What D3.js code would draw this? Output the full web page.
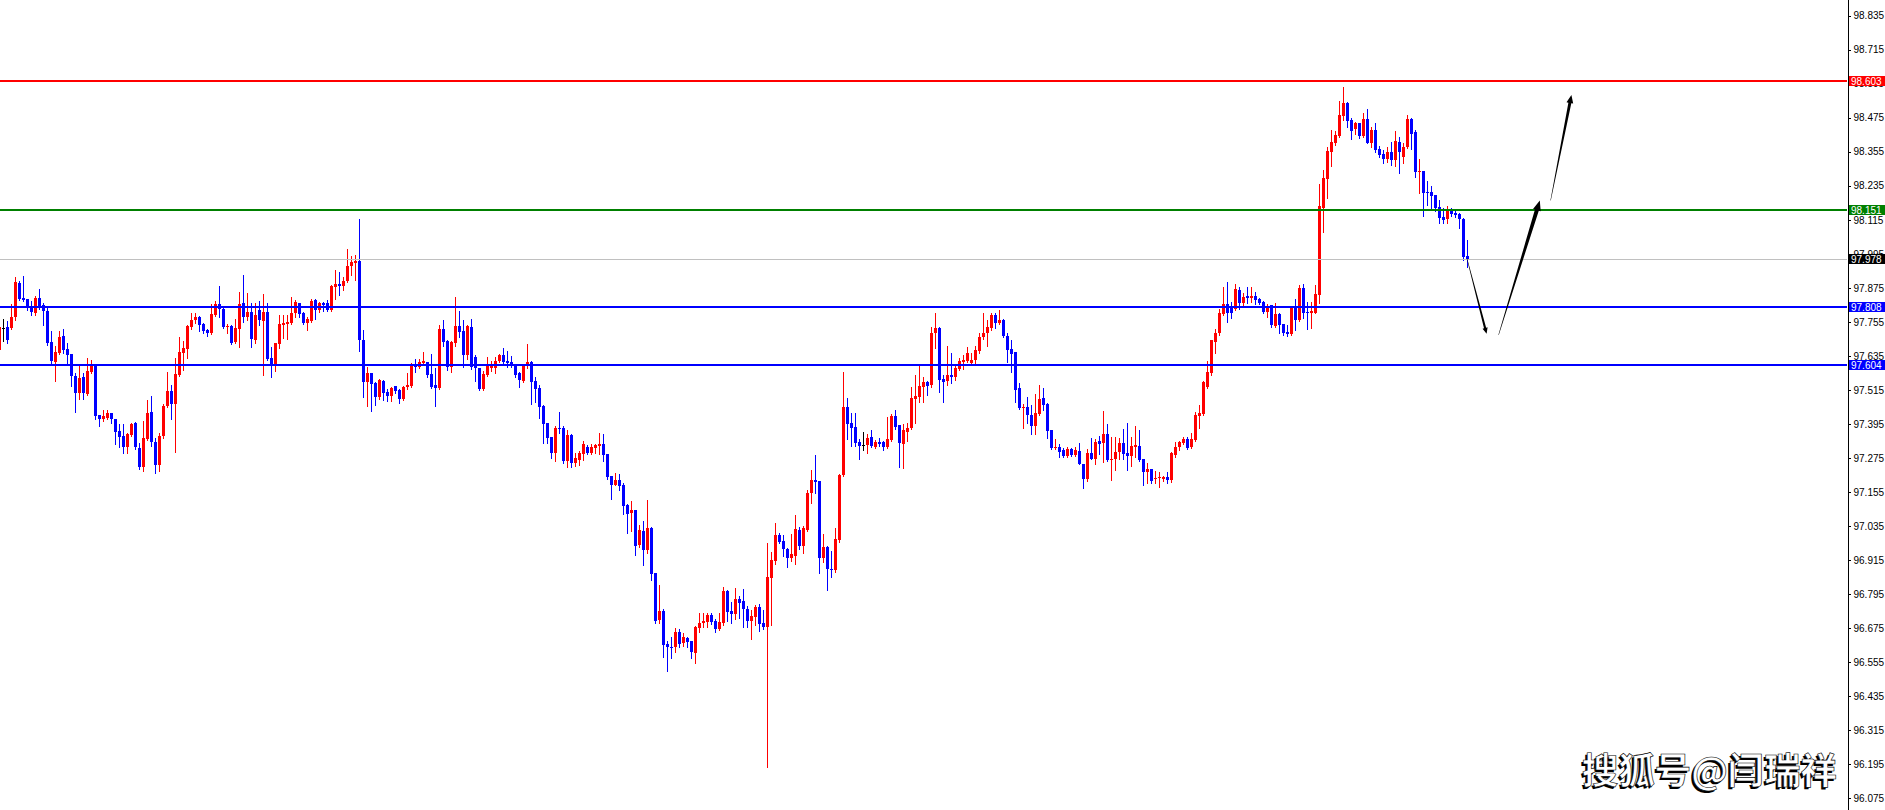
<!DOCTYPE html>
<html><head><meta charset="utf-8">
<script src="https://cdn.jsdelivr.net/npm/d3@7"></script>
<style>html,body{margin:0;padding:0;background:#fff;overflow:hidden}</style>
</head><body>
<svg id="chart" width="1885" height="810"></svg>
<script>
const openP = [
97.655,97.733,97.736,97.733,97.772,97.891,97.839,97.835,97.811,97.786,
97.839,97.814,97.793,97.684,97.613,97.645,97.705,97.659,97.641,97.564,
97.504,97.560,97.500,97.578,97.603,97.426,97.412,97.416,97.433,97.412,
97.370,97.352,97.313,97.356,97.398,97.310,97.243,97.342,97.437,97.331,
97.250,97.352,97.458,97.511,97.465,97.567,97.645,97.659,97.736,97.761,
97.772,97.747,97.726,97.715,97.779,97.818,97.800,97.736,97.740,97.684,
97.729,97.821,97.772,97.790,97.691,97.797,97.758,97.790,97.627,97.599,
97.677,97.744,97.747,97.751,97.786,97.821,97.786,97.751,97.758,97.832,
97.797,97.821,97.821,97.797,97.878,97.888,97.881,97.899,97.952,97.963,
97.970,97.691,97.543,97.574,97.539,97.490,97.546,97.507,97.493,97.529,
97.514,97.483,97.525,97.529,97.603,97.596,97.610,97.613,97.571,97.532,
97.521,97.729,97.687,97.596,97.680,97.740,97.722,97.638,97.736,97.631,
97.592,97.518,97.567,97.592,97.592,97.617,97.638,97.617,97.613,97.603,
97.574,97.546,97.599,97.613,97.546,97.521,97.458,97.398,97.349,97.292,
97.380,97.380,97.264,97.356,97.257,97.267,97.289,97.313,97.292,97.310,
97.317,97.324,97.289,97.211,97.180,97.197,97.179,97.109,97.080,97.091,
96.968,97.017,96.950,97.028,96.869,96.703,96.735,96.619,96.608,96.608,
96.661,96.622,96.640,96.629,96.587,96.675,96.693,96.696,96.721,96.700,
96.672,96.693,96.806,96.735,96.724,96.777,96.770,96.742,96.700,96.714,
96.749,96.693,96.679,96.851,96.911,97.003,96.982,96.954,96.922,96.929,
97.021,96.964,97.021,97.151,97.197,97.194,96.922,96.961,96.883,96.879,
96.985,97.215,97.455,97.398,97.384,97.331,97.320,97.320,97.349,97.313,
97.331,97.331,97.313,97.338,97.423,97.391,97.324,97.366,97.380,97.483,
97.490,97.525,97.543,97.532,97.715,97.733,97.553,97.546,97.567,97.560,
97.589,97.613,97.617,97.610,97.620,97.652,97.701,97.715,97.733,97.779,
97.751,97.761,97.705,97.659,97.648,97.521,97.451,97.455,97.426,97.388,
97.430,97.486,97.465,97.373,97.310,97.313,97.303,97.282,97.306,97.285,
97.299,97.254,97.201,97.292,97.271,97.334,97.327,97.359,97.267,97.271,
97.296,97.327,97.292,97.282,97.313,97.317,97.271,97.225,97.236,97.201,
97.204,97.201,97.208,97.197,97.285,97.313,97.327,97.342,97.313,97.338,
97.423,97.430,97.525,97.574,97.684,97.715,97.783,97.818,97.811,97.800,
97.867,97.821,97.846,97.839,97.846,97.835,97.825,97.790,97.814,97.740,
97.783,97.747,97.719,97.712,97.807,97.761,97.874,97.790,97.786,97.786,
97.850,98.156,98.259,98.354,98.386,98.410,98.481,98.527,98.467,98.435,
98.456,98.410,98.470,98.386,98.431,98.365,98.347,98.329,98.354,98.326,
98.389,98.336,98.372,98.470,98.424,98.283,98.287,98.213,98.213,98.202,
98.160,98.125,98.118,98.146,98.139,98.135,98.118,97.987];

const highP = [
97.754,97.765,97.758,97.818,97.913,97.899,97.917,97.836,97.828,97.846,
97.871,97.821,97.807,97.722,97.669,97.722,97.729,97.680,97.643,97.574,
97.599,97.574,97.627,97.620,97.605,97.427,97.444,97.444,97.434,97.413,
97.395,97.395,97.363,97.398,97.402,97.327,97.405,97.479,97.493,97.345,
97.363,97.465,97.578,97.532,97.627,97.701,97.687,97.744,97.786,97.786,
97.776,97.751,97.729,97.818,97.828,97.881,97.804,97.747,97.744,97.765,
97.860,97.920,97.857,97.821,97.821,97.828,97.853,97.821,97.666,97.681,
97.779,97.779,97.779,97.843,97.832,97.823,97.790,97.772,97.835,97.836,
97.825,97.825,97.832,97.885,97.938,97.931,97.913,98.012,97.987,97.991,
98.118,97.726,97.596,97.576,97.543,97.553,97.550,97.518,97.525,97.530,
97.518,97.529,97.574,97.610,97.624,97.624,97.648,97.615,97.641,97.592,
97.744,97.761,97.691,97.687,97.843,97.793,97.761,97.744,97.765,97.638,
97.594,97.581,97.631,97.617,97.631,97.641,97.663,97.652,97.634,97.604,
97.578,97.606,97.677,97.617,97.560,97.532,97.460,97.400,97.350,97.388,
97.437,97.388,97.373,97.359,97.292,97.299,97.334,97.320,97.324,97.324,
97.363,97.359,97.290,97.212,97.222,97.218,97.187,97.112,97.123,97.093,
97.038,97.052,97.126,97.031,96.870,96.827,96.742,96.629,96.643,96.675,
96.672,96.657,96.643,96.630,96.682,96.728,96.728,96.728,96.728,96.707,
96.728,96.820,96.809,96.767,96.816,96.788,96.813,96.753,96.738,96.756,
96.760,96.738,96.975,96.943,97.045,97.010,97.003,96.957,97.007,97.073,
97.031,97.035,97.162,97.232,97.285,97.195,97.007,96.964,96.947,97.028,
97.218,97.578,97.486,97.433,97.433,97.342,97.366,97.359,97.373,97.338,
97.345,97.334,97.419,97.430,97.444,97.392,97.395,97.398,97.525,97.567,
97.599,97.560,97.546,97.736,97.786,97.736,97.567,97.669,97.645,97.606,
97.627,97.638,97.666,97.645,97.669,97.715,97.786,97.761,97.786,97.786,
97.797,97.765,97.715,97.691,97.650,97.539,97.465,97.490,97.462,97.500,
97.532,97.521,97.469,97.375,97.342,97.324,97.310,97.313,97.310,97.313,
97.327,97.255,97.306,97.345,97.342,97.352,97.440,97.395,97.349,97.349,
97.345,97.377,97.398,97.349,97.388,97.373,97.272,97.257,97.237,97.229,
97.225,97.211,97.225,97.296,97.331,97.334,97.349,97.349,97.363,97.437,
97.462,97.545,97.617,97.692,97.729,97.800,97.878,97.895,97.825,97.888,
97.878,97.857,97.878,97.878,97.860,97.839,97.828,97.818,97.816,97.821,
97.786,97.748,97.744,97.808,97.835,97.885,97.888,97.825,97.825,97.885,
98.241,98.290,98.372,98.431,98.428,98.534,98.583,98.530,98.474,98.460,
98.457,98.491,98.506,98.442,98.456,98.375,98.361,98.372,98.389,98.428,
98.407,98.386,98.484,98.474,98.431,98.329,98.288,98.252,98.234,98.203,
98.184,98.156,98.163,98.156,98.146,98.139,98.121,98.043];

const lowP = [
97.648,97.687,97.680,97.731,97.761,97.833,97.828,97.797,97.779,97.779,
97.800,97.744,97.673,97.606,97.546,97.643,97.645,97.610,97.529,97.437,
97.483,97.483,97.498,97.576,97.412,97.388,97.405,97.412,97.398,97.324,
97.313,97.292,97.292,97.352,97.306,97.236,97.229,97.340,97.317,97.222,
97.229,97.345,97.455,97.412,97.296,97.564,97.585,97.627,97.729,97.751,
97.722,97.715,97.705,97.712,97.776,97.772,97.734,97.715,97.677,97.680,
97.666,97.754,97.761,97.666,97.680,97.744,97.567,97.622,97.560,97.581,
97.663,97.698,97.694,97.749,97.772,97.772,97.749,97.726,97.756,97.765,
97.790,97.793,97.795,97.795,97.835,97.850,97.867,97.895,97.920,97.902,
97.652,97.490,97.458,97.441,97.462,97.483,97.479,97.476,97.476,97.504,
97.469,97.479,97.518,97.525,97.578,97.594,97.606,97.560,97.523,97.458,
97.519,97.669,97.585,97.578,97.669,97.701,97.596,97.624,97.589,97.546,
97.514,97.516,97.564,97.581,97.574,97.613,97.603,97.596,97.596,97.560,
97.525,97.544,97.592,97.465,97.472,97.416,97.327,97.327,97.275,97.264,
97.363,97.257,97.243,97.243,97.246,97.250,97.267,97.289,97.290,97.292,
97.289,97.264,97.201,97.130,97.178,97.162,97.077,97.010,97.017,96.932,
96.961,96.897,96.940,96.844,96.693,96.693,96.573,96.523,96.569,96.590,
96.608,96.612,96.608,96.569,96.551,96.661,96.679,96.679,96.689,96.661,
96.668,96.686,96.700,96.693,96.707,96.710,96.679,96.679,96.636,96.686,
96.665,96.672,96.185,96.686,96.901,96.976,96.929,96.890,96.911,96.901,
96.954,96.940,97.017,97.116,97.151,96.869,96.908,96.809,96.855,96.873,
96.978,97.213,97.342,97.317,97.317,97.271,97.303,97.292,97.315,97.310,
97.317,97.303,97.310,97.334,97.377,97.243,97.239,97.334,97.377,97.398,
97.472,97.472,97.497,97.525,97.663,97.507,97.472,97.532,97.539,97.550,
97.585,97.589,97.613,97.606,97.606,97.645,97.694,97.669,97.726,97.733,
97.747,97.701,97.613,97.578,97.472,97.448,97.380,97.398,97.359,97.359,
97.426,97.444,97.345,97.308,97.306,97.278,97.278,97.278,97.282,97.282,
97.253,97.169,97.194,97.270,97.254,97.289,97.261,97.265,97.197,97.232,
97.271,97.271,97.232,97.246,97.278,97.265,97.180,97.187,97.187,97.187,
97.173,97.194,97.187,97.190,97.278,97.303,97.324,97.306,97.311,97.334,
97.380,97.428,97.523,97.567,97.645,97.708,97.779,97.754,97.769,97.797,
97.800,97.814,97.821,97.825,97.818,97.818,97.786,97.772,97.736,97.736,
97.715,97.708,97.705,97.708,97.726,97.758,97.769,97.729,97.733,97.785,
97.821,98.072,98.192,98.305,98.379,98.407,98.467,98.442,98.400,98.417,
98.403,98.407,98.385,98.372,98.354,98.336,98.315,98.319,98.308,98.305,
98.280,98.315,98.368,98.365,98.266,98.209,98.128,98.167,98.149,98.146,
98.103,98.103,98.103,98.128,98.125,98.086,97.973,97.948];

const closeP = [
97.736,97.733,97.691,97.772,97.895,97.835,97.832,97.807,97.790,97.839,
97.807,97.793,97.680,97.617,97.648,97.701,97.655,97.638,97.564,97.504,
97.557,97.504,97.581,97.599,97.423,97.412,97.423,97.433,97.412,97.366,
97.349,97.313,97.359,97.395,97.313,97.243,97.345,97.433,97.331,97.250,
97.352,97.458,97.511,97.465,97.571,97.648,97.663,97.740,97.761,97.772,
97.744,97.722,97.715,97.783,97.818,97.800,97.736,97.740,97.680,97.733,
97.818,97.772,97.790,97.694,97.779,97.761,97.790,97.624,97.599,97.680,
97.747,97.751,97.754,97.786,97.825,97.783,97.751,97.765,97.828,97.797,
97.821,97.814,97.797,97.881,97.888,97.881,97.899,97.952,97.966,97.970,
97.691,97.543,97.574,97.536,97.490,97.550,97.504,97.493,97.521,97.511,
97.483,97.525,97.532,97.603,97.596,97.613,97.617,97.567,97.525,97.521,
97.729,97.684,97.596,97.684,97.740,97.719,97.638,97.740,97.596,97.592,
97.518,97.571,97.603,97.603,97.617,97.638,97.613,97.610,97.599,97.567,
97.550,97.603,97.613,97.543,97.518,97.455,97.395,97.345,97.292,97.380,
97.377,97.264,97.356,97.257,97.275,97.292,97.324,97.292,97.313,97.320,
97.324,97.285,97.208,97.180,97.197,97.176,97.105,97.077,97.091,96.964,
97.021,96.950,97.028,96.866,96.700,96.735,96.615,96.608,96.604,96.661,
96.619,96.643,96.626,96.590,96.679,96.693,96.700,96.721,96.696,96.672,
96.696,96.806,96.731,96.724,96.777,96.763,96.742,96.700,96.717,96.749,
96.689,96.679,96.855,96.915,97.003,96.978,96.954,96.922,96.936,97.024,
96.964,97.028,97.151,97.197,97.190,96.922,96.961,96.883,96.879,96.989,
97.215,97.455,97.395,97.380,97.327,97.317,97.320,97.345,97.317,97.331,
97.324,97.313,97.342,97.423,97.384,97.327,97.373,97.380,97.486,97.493,
97.529,97.543,97.529,97.715,97.733,97.550,97.543,97.567,97.560,97.592,
97.617,97.620,97.645,97.620,97.655,97.701,97.715,97.736,97.779,97.751,
97.761,97.705,97.655,97.641,97.514,97.451,97.455,97.426,97.388,97.433,
97.483,97.462,97.370,97.310,97.313,97.296,97.282,97.306,97.285,97.303,
97.254,97.201,97.292,97.271,97.331,97.324,97.359,97.267,97.271,97.296,
97.327,97.289,97.282,97.317,97.320,97.267,97.225,97.236,97.194,97.204,
97.208,97.208,97.197,97.292,97.313,97.331,97.342,97.310,97.342,97.426,
97.433,97.543,97.578,97.691,97.715,97.786,97.818,97.786,97.786,97.871,
97.821,97.843,97.839,97.846,97.832,97.821,97.790,97.804,97.744,97.783,
97.744,97.715,97.712,97.807,97.761,97.874,97.786,97.786,97.793,97.853,
98.163,98.262,98.358,98.389,98.414,98.484,98.527,98.463,98.428,98.456,
98.410,98.470,98.386,98.431,98.361,98.343,98.329,98.354,98.326,98.393,
98.354,98.372,98.470,98.417,98.283,98.287,98.209,98.209,98.199,98.156,
98.121,98.114,98.149,98.135,98.132,98.118,97.984,97.978];

const tickLabels = ["98.835","98.715","98.595","98.475","98.355","98.235","98.115","97.995",
"97.875","97.755","97.635","97.515","97.395","97.275","97.155","97.035","96.915","96.795",
"96.675","96.555","96.435","96.315","96.195","96.075"];

const levelValues = [98.603, 98.151, 97.978, 97.808, 97.604];
const levelNames = ["resistance", "pivot", "bid", "support1", "support2"];

// arrows in (bar index, price) coordinates
const arrowFrom = [[367, 97.978], [374.9, 97.709], [387.9, 98.183]];
const arrowTo   = [[371.9, 97.713], [385.2, 98.183], [393.1, 98.555]];

const watermark = "搜狐号@闫瑞祥";

// ---------------- drawing ----------------
const W = 1885, H = 810, axisX = 1847;
const svg = d3.select("#chart");
svg.append("rect").attr("width", W).attr("height", H).attr("fill", "#ffffff");

const x = d3.scaleLinear().domain([0, 367]).range([-1, 1467]);
const y = d3.scaleLinear().domain([96.0331, 98.8904]).range([H, 0]);

const idx = d3.range(openP.length);
const candleColor = i => closeP[i] > openP[i] ? "#ff0000" : (closeP[i] < openP[i] ? "#0000ff" : "#000000");

const cg = svg.append("g").attr("shape-rendering", "crispEdges");
cg.selectAll("line.wick").data(idx).join("line").attr("class", "wick")
  .attr("x1", i => x(i) + 0.5).attr("x2", i => x(i) + 0.5)
  .attr("y1", i => Math.round(y(highP[i]))).attr("y2", i => Math.round(y(lowP[i])) + 1)
  .attr("stroke", candleColor).attr("stroke-width", 1);
cg.selectAll("rect.body").data(idx).join("rect").attr("class", "body")
  .attr("x", i => x(i) - 1).attr("width", 3)
  .attr("y", i => Math.round(y(Math.max(openP[i], closeP[i]))))
  .attr("height", i => Math.max(1, Math.round(y(Math.min(openP[i], closeP[i]))) - Math.round(y(Math.max(openP[i], closeP[i])))))
  .attr("fill", candleColor);

// level lines
const levelStyle = {
  resistance: {color: "#ff0000", w: 2, text: "#ffffff"},
  pivot: {color: "#008000", w: 2, text: "#ffffff"},
  bid: {color: "#c0c0c0", w: 1, text: "#ffffff", box: "#000000"},
  support1: {color: "#0000ff", w: 2, text: "#ffffff"},
  support2: {color: "#0000ff", w: 2, text: "#ffffff"}
};
const lg = svg.append("g").attr("shape-rendering", "crispEdges");
levelValues.forEach((v, j) => {
  const s = levelStyle[levelNames[j]];
  const yy = Math.round(y(v));
  lg.append("rect").attr("x", 0).attr("width", axisX).attr("y", s.w === 2 ? yy - 1 : yy).attr("height", s.w).attr("fill", s.color);
});

// arrows
function arrowPath(p0, p1, w0, w1, headLen, headHalf) {
  const dx = p1[0] - p0[0], dy = p1[1] - p0[1], L = Math.hypot(dx, dy);
  const ux = dx / L, uy = dy / L, nx = -uy, ny = ux;
  const bx = p1[0] - ux * headLen, by = p1[1] - uy * headLen;
  const pts = [
    [p0[0] + nx * w0 / 2, p0[1] + ny * w0 / 2],
    [bx + nx * w1 / 2, by + ny * w1 / 2],
    [bx + nx * headHalf, by + ny * headHalf],
    [p1[0], p1[1]],
    [bx - nx * headHalf, by - ny * headHalf],
    [bx - nx * w1 / 2, by - ny * w1 / 2],
    [p0[0] - nx * w0 / 2, p0[1] - ny * w0 / 2]];
  return "M" + pts.map(p => p[0].toFixed(2) + "," + p[1].toFixed(2)).join("L") + "Z";
}
const arrowSizes = [[0.4, 2.2, 6, 2.6], [0.4, 4, 10, 4], [0.4, 3, 8, 3.4]];
const ag = svg.append("g");
arrowFrom.forEach((f, j) => {
  const p0 = [x(f[0]), y(f[1])], p1 = [x(arrowTo[j][0]), y(arrowTo[j][1])];
  const s = arrowSizes[j];
  ag.append("path").attr("d", arrowPath(p0, p1, s[0], s[1], s[2], s[3])).attr("fill", "#000000");
});

// right price axis
const axis = d3.axisRight(y)
  .tickValues(tickLabels.map(Number))
  .tickFormat(d3.format(".3f"))
  .tickSizeInner(3).tickSizeOuter(0).tickPadding(3);
const axG = svg.append("g").attr("transform", `translate(${axisX + 0.5},0)`)
  .attr("shape-rendering", "crispEdges").call(axis);
axG.select(".domain").attr("stroke", "#000");
axG.selectAll(".tick line").attr("stroke", "#000");
axG.selectAll(".tick text").attr("font-family", "'Liberation Sans', Arial, sans-serif")
  .attr("font-size", "10px").attr("fill", "#000");
axG.select(".domain").attr("d", `M0.5,0V${H}`);

// level price labels on the axis
const labG = svg.append("g");
levelValues.forEach((v, j) => {
  const s = levelStyle[levelNames[j]];
  const yy = Math.round(y(v));
  labG.append("rect").attr("x", axisX + 2).attr("y", yy - 5).attr("width", W - axisX - 2).attr("height", 10)
    .attr("fill", s.box || s.color).attr("shape-rendering", "crispEdges");
  labG.append("text").attr("x", axisX + 4).attr("y", yy).attr("dy", "0.35em")
    .attr("font-family", "'Liberation Sans', Arial, sans-serif").attr("font-size", "10px")
    .attr("fill", s.text).text(v.toFixed(3));
});

// watermark
const wmG = svg.append("g").attr("font-family", "'Noto Sans CJK SC', sans-serif").attr("font-weight", "700");
const wmX = 1582, wmY = 784, wmTarget = 255;
const wmShadow = wmG.append("text").attr("x", wmX - 2).attr("y", wmY + 2).attr("font-size", 36).attr("fill", "#000000").text(watermark);
const wmMain = wmG.append("text").attr("x", wmX).attr("y", wmY).attr("font-size", 36).attr("fill", "#ffffff")
  .attr("stroke", "#000").attr("stroke-width", 0.6).text(watermark);
const len = wmMain.node().getComputedTextLength();
const fs = 36 * wmTarget / len;
wmShadow.attr("font-size", fs);
wmMain.attr("font-size", fs);
</script>
</body></html>
